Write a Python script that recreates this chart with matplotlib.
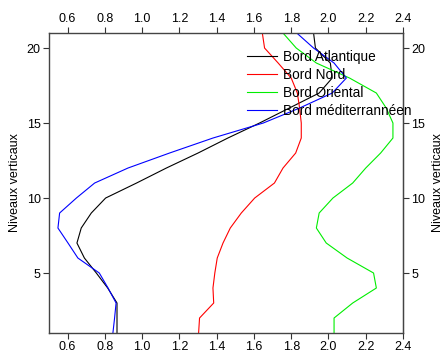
import matplotlib
matplotlib.use("Agg")
import matplotlib.pyplot as plt
import numpy as np

plt.rcParams['font.family'] = ['Liberation Sans', 'DejaVu Sans']

levels = list(range(1, 22))
atlantique = [0.865, 0.865, 0.865, 0.815, 0.754, 0.69, 0.65, 0.673, 0.727, 0.804, 0.97,
              1.13, 1.30, 1.46, 1.63, 1.79, 1.95, 2.02, 2.01, 1.93, 1.92]
nord = [1.303, 1.308, 1.384, 1.38, 1.39, 1.403, 1.434, 1.473, 1.532, 1.604, 1.71,
        1.756, 1.824, 1.854, 1.854, 1.845, 1.833, 1.80, 1.73, 1.657, 1.645]
oriental = [2.03, 2.03, 2.13, 2.257, 2.242, 2.10, 1.988, 1.935, 1.95, 2.024, 2.13,
            2.20, 2.28, 2.346, 2.346, 2.31, 2.257, 2.113, 1.935, 1.827, 1.756]
mediterraneen = [0.843, 0.852, 0.86, 0.817, 0.77, 0.655, 0.602, 0.548, 0.557, 0.647, 0.745,
                 0.924, 1.147, 1.38, 1.65, 1.845, 2.02, 2.096, 2.03, 1.92, 1.83]

series = [("Bord Atlantique", atlantique, "#000000"),
          ("Bord Nord", nord, "#ff0000"),
          ("Bord Oriental", oriental, "#00ee00"),
          ("Bord méditerrannéen", mediterraneen, "#0000ff")]
xticks = [0.6, 0.8, 1.0, 1.2, 1.4, 1.6, 1.8, 2.0, 2.2, 2.4]
yticks = [5, 10, 15, 20]

fig = plt.figure(figsize=(4.43, 3.63), dpi=100)
ax = fig.add_axes([0.1106, 0.0826, 0.7991, 0.8264])
for name, vals, col in series:
    ax.plot(vals, levels, color=col, lw=0.8, label=name)

ax.set_xlim(0.5, 2.4)
ax.set_ylim(1, 21)
ax.set_xticks(xticks)
ax.set_xticklabels([f"{v:.1f}" for v in xticks])
ax.set_yticks(yticks)
ax.tick_params(axis='both', direction='out', length=4, width=0.8, labelsize=9,
               top=True, labeltop=True, right=False, labelright=False, colors='#333333',
               labelcolor='black', pad=2)
for s in ax.spines.values():
    s.set_linewidth(1.0)
    s.set_color('#444444')
ax.set_ylabel("Niveaux verticaux", fontsize=9, labelpad=4)

sec = ax.secondary_yaxis('right')
sec.set_yticks(yticks)
sec.tick_params(axis='y', direction='out', length=4, width=0.8, labelsize=9,
                colors='#333333', labelcolor='black', pad=2)
sec.spines['right'].set_color('#444444')
sec.set_ylabel("Niveaux verticaux", fontsize=9, labelpad=5)

leg = ax.legend(loc='upper left', bbox_to_anchor=(0.56, 0.945), frameon=False,
                fontsize=9.8, handlelength=2.2, handletextpad=0.45, borderaxespad=0,
                labelspacing=0.3, borderpad=0)

fig.savefig("out.png", dpi=100)
